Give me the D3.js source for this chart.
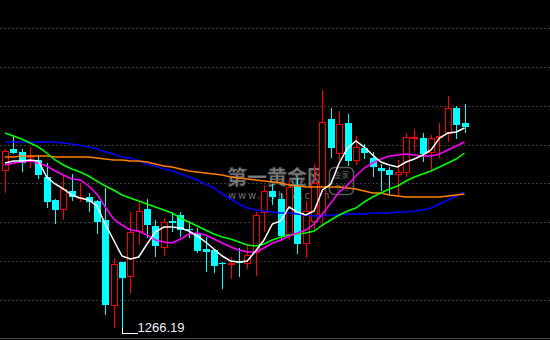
<!DOCTYPE html>
<html>
<head>
<meta charset="utf-8">
<script src="https://cdn.jsdelivr.net/npm/d3@7"></script>
<style>
  html, body { margin: 0; padding: 0; background: #000; }
  svg { display: block; }
</style>
</head>
<body>
<div id="holder"></div>
<script>
// daily candles (index = bar number)
var opens = [1308.20, 1313.86, 1313.09, 1311.90, 1311.03, 1306.65, 1300.74, 1298.16, 1303.05, 1301.25,
  1301.51, 1300.48, 1295.59, 1273.46, 1284.78, 1280.92, 1292.50, 1298.42, 1294.04, 1288.38,
  1295.33, 1296.87, 1293.20, 1292.24, 1288.12, 1287.87, 1284.60, 1284.01, 1284.85, 1284.26,
  1287.10, 1297.39, 1303.05, 1300.99, 1291.73, 1304.34, 1289.41, 1295.07, 1296.62, 1321.58,
  1312.57, 1320.55, 1310.77, 1314.12, 1311.54, 1308.97, 1308.46, 1307.17, 1307.68, 1316.43,
  1316.69, 1312.83, 1316.69, 1317.72, 1324.41, 1320.55];
var highs = [1313.86, 1317.46, 1313.86, 1314.37, 1312.06, 1310.26, 1300.99, 1307.17, 1307.43, 1305.11,
  1302.54, 1300.74, 1303.82, 1285.81, 1284.78, 1297.65, 1300.22, 1300.99, 1295.59, 1296.10,
  1297.65, 1297.65, 1295.33, 1293.53, 1291.21, 1288.12, 1284.78, 1286.07, 1288.38, 1289.41,
  1297.65, 1304.60, 1304.85, 1302.28, 1306.14, 1306.40, 1300.48, 1310.00, 1329.04, 1324.41,
  1323.64, 1322.87, 1317.21, 1315.15, 1313.09, 1310.00, 1309.23, 1311.03, 1317.98, 1319.01,
  1317.98, 1317.46, 1320.55, 1327.50, 1324.93, 1325.44];
var lows = [1302.54, 1312.57, 1307.94, 1308.97, 1306.14, 1298.68, 1294.56, 1295.59, 1300.48, 1300.22,
  1297.65, 1291.99, 1271.14, 1267.79, 1266.19, 1276.80, 1289.15, 1290.96, 1286.07, 1286.32,
  1292.50, 1291.21, 1290.96, 1287.10, 1282.21, 1281.95, 1277.83, 1280.40, 1280.92, 1282.98,
  1281.18, 1292.50, 1299.45, 1290.18, 1290.44, 1286.84, 1285.81, 1293.01, 1293.79, 1311.54,
  1311.03, 1309.48, 1309.74, 1311.29, 1306.65, 1303.05, 1302.02, 1302.02, 1306.65, 1313.35,
  1310.51, 1308.20, 1311.54, 1315.66, 1316.43, 1317.98];
var closes = [1313.35, 1312.83, 1310.26, 1312.06, 1307.17, 1300.22, 1298.16, 1303.57, 1301.51, 1301.51,
  1300.22, 1295.07, 1273.71, 1284.26, 1280.66, 1292.50, 1297.90, 1294.30, 1288.90, 1295.07,
  1294.82, 1293.01, 1293.01, 1287.61, 1287.35, 1283.75, 1284.52, 1284.52, 1284.70, 1286.58,
  1296.87, 1303.05, 1301.51, 1291.47, 1304.08, 1289.41, 1297.90, 1305.11, 1320.81, 1314.12,
  1320.29, 1310.77, 1314.37, 1312.83, 1309.23, 1308.20, 1307.17, 1307.94, 1316.95, 1316.95,
  1312.57, 1316.69, 1317.21, 1324.41, 1320.04, 1319.52];

// moving averages as drawn
var ma5 = [1310.26, 1310.77, 1310.77, 1311.03, 1310.77, 1306.65, 1304.85, 1303.57, 1302.02, 1301.25,
  1300.74, 1299.19, 1294.56, 1290.44, 1286.32, 1285.55, 1286.07, 1289.41, 1292.50, 1293.79,
  1293.79, 1293.53, 1292.76, 1291.47, 1289.93, 1288.12, 1286.32, 1285.04, 1284.78, 1285.04,
  1287.61, 1290.44, 1294.56, 1295.33, 1298.93, 1297.65, 1296.87, 1297.90, 1303.31, 1304.85,
  1310.26, 1314.12, 1315.92, 1314.37, 1312.32, 1310.51, 1309.74, 1309.23, 1310.51, 1311.29,
  1312.32, 1313.60, 1316.69, 1317.98, 1318.23, 1319.26];
var ma10 = [1309.74, 1310.26, 1310.51, 1310.77, 1310.26, 1309.48, 1308.20, 1307.17, 1306.14, 1305.88,
  1304.34, 1302.28, 1298.93, 1295.85, 1294.30, 1293.01, 1292.76, 1291.73, 1290.44, 1289.93,
  1289.67, 1290.70, 1291.99, 1292.24, 1291.73, 1290.70, 1289.67, 1288.64, 1287.87, 1287.35,
  1287.35, 1288.38, 1289.67, 1290.44, 1291.47, 1292.24, 1293.01, 1294.56, 1297.13, 1299.96,
  1302.79, 1304.60, 1306.91, 1308.97, 1310.26, 1311.29, 1312.06, 1312.32, 1312.57, 1312.32,
  1312.06, 1312.06, 1312.57, 1313.60, 1314.63, 1315.66];
var ma20 = [1317.98, 1317.21, 1316.43, 1315.40, 1314.37, 1312.83, 1311.03, 1309.74, 1308.71, 1307.94,
  1306.91, 1305.62, 1304.34, 1303.31, 1302.02, 1301.25, 1300.48, 1299.71, 1298.93, 1298.16,
  1297.39, 1296.10, 1295.07, 1294.04, 1293.01, 1291.99, 1291.21, 1290.70, 1289.93, 1289.15,
  1288.90, 1289.41, 1290.44, 1291.21, 1291.73, 1291.99, 1292.24, 1292.76, 1294.30, 1295.59,
  1296.87, 1297.90, 1298.68, 1300.22, 1301.51, 1302.54, 1303.57, 1304.34, 1305.62, 1306.65,
  1307.43, 1308.20, 1309.23, 1310.26, 1311.29, 1312.83];
var ma40 = [1311.80, 1311.80, 1312.06, 1312.06, 1312.06, 1312.06, 1311.80, 1311.80, 1311.80, 1311.80,
  1311.80, 1311.54, 1311.29, 1311.03, 1311.03, 1310.77, 1310.77, 1310.51, 1310.00, 1309.48,
  1309.23, 1308.71, 1308.20, 1307.94, 1307.68, 1307.43, 1307.17, 1306.65, 1306.40, 1306.14,
  1305.88, 1305.62, 1305.37, 1305.11, 1304.60, 1304.34, 1304.08, 1304.08, 1304.08, 1304.08,
  1304.08, 1303.82, 1303.57, 1303.05, 1302.54, 1302.54, 1302.02, 1301.76, 1301.51, 1301.51,
  1301.51, 1301.51, 1301.51, 1301.76, 1302.02, 1302.28];
var ma60 = [1315.66, 1315.66, 1315.66, 1315.66, 1315.66, 1315.66, 1315.66, 1315.40, 1315.15, 1314.76,
  1314.37, 1313.86, 1313.09, 1312.57, 1311.80, 1311.54, 1310.77, 1310.00, 1309.48, 1308.71,
  1308.20, 1307.43, 1306.65, 1305.88, 1304.85, 1303.82, 1302.28, 1300.99, 1299.71, 1298.68,
  1298.16, 1297.90, 1297.65, 1297.39, 1297.39, 1297.13, 1296.87, 1296.62, 1296.62, 1296.87,
  1296.87, 1297.13, 1297.13, 1297.13, 1297.39, 1297.39, 1297.39, 1297.65, 1297.65, 1297.90,
  1298.16, 1298.68, 1299.71, 1300.74, 1301.76, 1302.79];

var gridPrices = [1275, 1285, 1295, 1305, 1315, 1325, 1335, 1345];
var lowLabel = "1266.19";
var lowIndex = 14;

var W = 550, H = 340;
var svg = d3.select('#holder').append('svg').attr('width', W).attr('height', H);
svg.append('rect').attr('width', W).attr('height', H).attr('fill', '#000');

var x = d3.scaleLinear().domain([0, opens.length - 1]).range([5, 464.5]);
var y = d3.scaleLinear().domain([1275, 1345]).range([300, 28]);

// dotted grid
svg.selectAll('line.grid').data(gridPrices).enter().append('line')
  .attr('class', 'grid')
  .attr('x1', 0).attr('x2', W)
  .attr('y1', d => Math.round(y(d)) + 0.5).attr('y2', d => Math.round(y(d)) + 0.5)
  .attr('stroke', '#3c3c46').attr('stroke-dasharray', '2,2');

svg.append('line').attr('x1', 0).attr('x2', W).attr('y1', 338.5).attr('y2', 338.5)
  .attr('stroke', '#4a4a4a');

// watermark
var wm = svg.append('g').attr('opacity', 0.85);
wm.append('text').attr('x', 227).attr('y', 185)
  .attr('font-family', 'Noto Sans CJK SC').attr('font-weight', 'bold').attr('font-size', 20)
  .attr('fill', '#959595').attr('stroke', '#404040').attr('stroke-width', 0.7)
  .text('第一黄金网');
wm.append('text').attr('x', 228).attr('y', 199)
  .attr('font-family', 'DejaVu Sans').attr('font-size', 10).attr('letter-spacing', 1.8)
  .attr('fill', '#808080')
  .text('www.dyhjw.com');
wm.append('rect').attr('x', 329.5).attr('y', 167.5).attr('width', 24).attr('height', 27).attr('rx', 5)
  .attr('fill', 'none').attr('stroke', '#6a6a6a').attr('stroke-width', 1.5);
wm.append('text').attr('x', 341.5).attr('y', 178).attr('text-anchor', 'middle')
  .attr('font-family', 'Noto Sans CJK SC').attr('font-size', 8).attr('fill', '#7a7a7a').text('金家');
wm.append('text').attr('x', 341.5).attr('y', 190).attr('text-anchor', 'middle')
  .attr('font-family', 'Noto Sans CJK SC').attr('font-size', 7).attr('fill', '#6a6a6a').text('专栏');

// candles
var bars = d3.range(opens.length);
var g = svg.append('g').attr('shape-rendering', 'crispEdges');
bars.forEach(function(i) {
  var up = closes[i] >= opens[i];
  var cx = Math.round(x(i)) + 0.5;
  var top = Math.round(y(Math.max(opens[i], closes[i])));
  var bot = Math.round(y(Math.min(opens[i], closes[i])));
  if (bot - top < 1) bot = top + 1;
  var hi = Math.round(y(highs[i])), lo = Math.round(y(lows[i]));
  if (up) {
    g.append('line').attr('x1', cx).attr('x2', cx).attr('y1', hi).attr('y2', top).attr('stroke', '#ff0000');
    g.append('line').attr('x1', cx).attr('x2', cx).attr('y1', bot).attr('y2', lo).attr('stroke', '#ff0000');
    g.append('rect').attr('x', cx - 3).attr('y', top + 0.5).attr('width', 6).attr('height', Math.max(bot - top - 1, 0.5))
      .attr('fill', '#000').attr('stroke', '#ff0000').attr('stroke-width', 1.5);
  } else {
    g.append('line').attr('x1', cx).attr('x2', cx).attr('y1', hi).attr('y2', lo).attr('stroke', '#00ffff');
    g.append('rect').attr('x', cx - 3.5).attr('y', top).attr('width', 7).attr('height', bot - top)
      .attr('fill', '#00ffff');
  }
});

// moving averages
var line = d3.line().x((d, i) => x(i)).y(d => y(d));
[[ma60, '#0000ff'], [ma40, '#ff8000'], [ma20, '#00ff00'], [ma10, '#ff00ff'], [ma5, '#ffffff']].forEach(function(m) {
  svg.append('path').datum(m[0]).attr('d', line)
    .attr('fill', 'none').attr('stroke', m[1]).attr('stroke-width', 1.5);
});

// lowest price marker
var lx = Math.round(x(lowIndex)) + 0.5, ly = Math.round(y(lows[lowIndex])) - 0.5;
svg.append('path').attr('d', 'M' + lx + ',' + (ly - 6) + 'V' + ly + 'H' + (lx + 15))
  .attr('fill', 'none').attr('stroke', '#ffffff').attr('shape-rendering', 'crispEdges');
svg.append('text').attr('x', lx + 15).attr('y', ly - 2)
  .attr('font-family', 'Liberation Sans').attr('font-size', 13).attr('fill', '#eef2ff')
  .text(lowLabel);
</script>
</body>
</html>
